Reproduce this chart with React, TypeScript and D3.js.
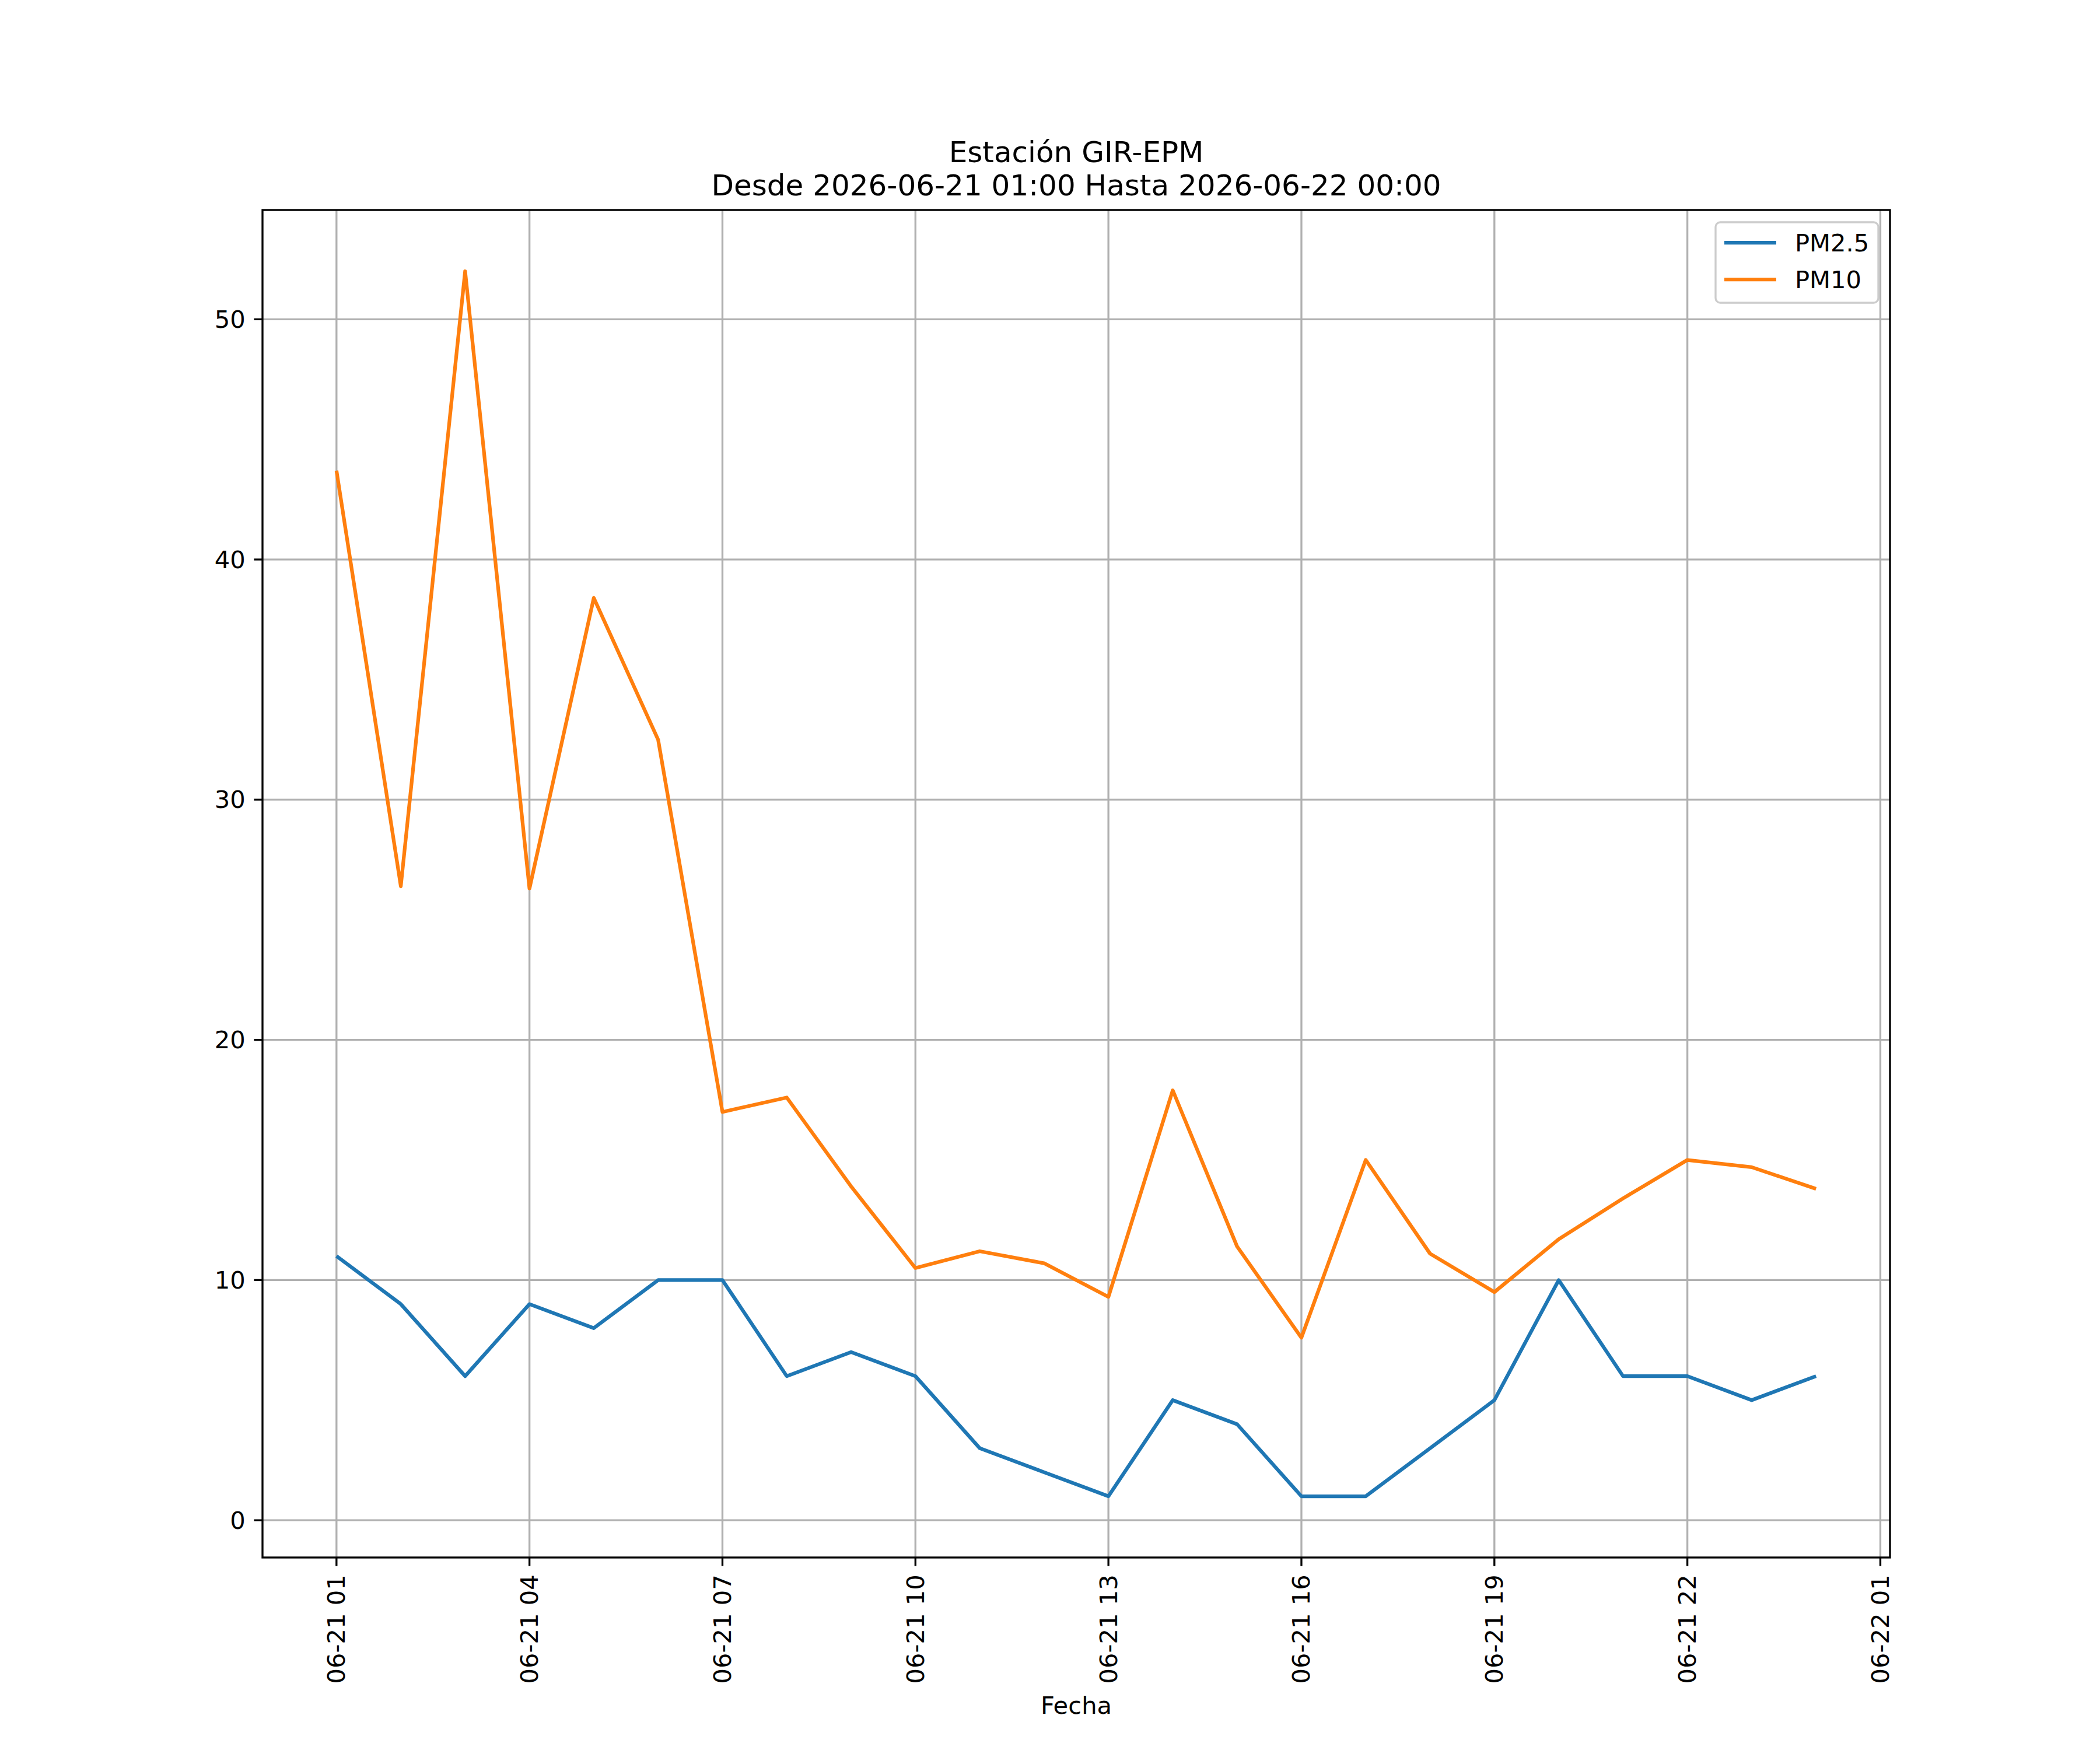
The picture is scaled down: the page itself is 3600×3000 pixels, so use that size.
import React from 'react'
import * as d3 from 'd3'

// hourly readings, 2026-06-21 01:00 .. 2026-06-22 00:00
const times = [
  '2026-06-21 01:00', '2026-06-21 02:00', '2026-06-21 03:00', '2026-06-21 04:00',
  '2026-06-21 05:00', '2026-06-21 06:00', '2026-06-21 07:00', '2026-06-21 08:00',
  '2026-06-21 09:00', '2026-06-21 10:00', '2026-06-21 11:00', '2026-06-21 12:00',
  '2026-06-21 13:00', '2026-06-21 14:00', '2026-06-21 15:00', '2026-06-21 16:00',
  '2026-06-21 17:00', '2026-06-21 18:00', '2026-06-21 19:00', '2026-06-21 20:00',
  '2026-06-21 21:00', '2026-06-21 22:00', '2026-06-21 23:00', '2026-06-22 00:00'
]

const pm25 = [11, 9, 6, 9, 8, 10, 10, 6, 7, 6, 3, 2, 1, 5, 4, 1, 1, 3, 5, 10, 6, 6, 5, 6]

const pm10 = [
  43.7, 26.4, 52.0, 26.3, 38.4, 32.5, 17.0, 17.6, 13.9, 10.5, 11.2, 10.7,
  9.3, 17.9, 11.4, 7.6, 15.0, 11.1, 9.5, 11.7, 13.4, 15.0, 14.7, 13.8
]

const xTickTimes = [
  '2026-06-21 01:00', '2026-06-21 04:00', '2026-06-21 07:00', '2026-06-21 10:00',
  '2026-06-21 13:00', '2026-06-21 16:00', '2026-06-21 19:00', '2026-06-21 22:00',
  '2026-06-22 01:00'
]

const yTicks = [0, 10, 20, 30, 40, 50]

const series = [
  { name: 'PM2.5', values: pm25, color: '#1f77b4' },
  { name: 'PM10', values: pm10, color: '#ff7f0e' }
]

const titleLines = ['Estación GIR-EPM', 'Desde 2026-06-21 01:00 Hasta 2026-06-22 00:00']

const font = 'DejaVu Sans, sans-serif'
const parse = d3.timeParse('%Y-%m-%d %H:%M')
const fmt = d3.timeFormat('%m-%d %H')

const App = () => {
  const width = 3600
  const height = 3000
  const margin = { left: 450, right: 360, top: 360, bottom: 330 }
  const x0 = margin.left
  const x1 = width - margin.right
  const y0 = margin.top
  const y1 = height - margin.bottom

  const dates = times.map((t) => parse(t))

  //matplotlib style 5% margins
  const tMin = +dates[0]
  const tMax = +dates[dates.length - 1]
  const tPad = (tMax - tMin) * 0.05
  const all = pm25.concat(pm10)
  const vMin = d3.min(all)
  const vMax = d3.max(all)
  const vPad = (vMax - vMin) * 0.05

  const x = d3
    .scaleTime()
    .domain([new Date(tMin - tPad), new Date(tMax + tPad)])
    .range([x0, x1])
  const y = d3
    .scaleLinear()
    .domain([vMin - vPad, vMax + vPad])
    .range([y1, y0])

  const tick = 14.6
  const pad = 14.6
  const gridStyle = { stroke: '#b0b0b0', strokeWidth: 3.33 }
  const xTicks = xTickTimes.map((t) => parse(t))

  const line = (vals) =>
    d3
      .line()
      .x((d, i) => x(dates[i]))
      .y((d) => y(d))(vals)

  const legX = 2941
  const legY = 381

  return (
    <svg
      width={width}
      height={height}
      style={{ position: 'absolute', left: 0, top: 0, background: '#fff' }}
      fontFamily={font}
    >
      <rect x={0} y={0} width={width} height={height} fill="#fff" />

      {/* grid */}
      <g>
        {xTicks.map((t, i) => (
          <line key={'gx' + i} x1={x(t)} x2={x(t)} y1={y0} y2={y1} style={gridStyle} />
        ))}
        {yTicks.map((v, i) => (
          <line key={'gy' + i} x1={x0} x2={x1} y1={y(v)} y2={y(v)} style={gridStyle} />
        ))}
      </g>

      {/* data lines */}
      {series.map((s) => (
        <path
          key={s.name}
          d={line(s.values)}
          fill="none"
          stroke={s.color}
          strokeWidth={6.25}
          strokeLinejoin="round"
          strokeLinecap="butt"
        />
      ))}

      {/* frame */}
      <rect
        x={x0}
        y={y0}
        width={x1 - x0}
        height={y1 - y0}
        fill="none"
        stroke="#000"
        strokeWidth={3.33}
      />

      {/* y axis */}
      <g>
        {yTicks.map((v, i) => (
          <g key={'yt' + i}>
            <line x1={x0} x2={x0 - tick} y1={y(v)} y2={y(v)} stroke="#000" strokeWidth={3.33} />
            <text
              x={x0 - tick - pad}
              y={y(v)}
              textAnchor="end"
              dominantBaseline="central"
              fontSize={41.67}
              fill="#000"
            >
              {v}
            </text>
          </g>
        ))}
      </g>

      {/* x axis */}
      <g>
        {xTicks.map((t, i) => (
          <g key={'xt' + i}>
            <line x1={x(t)} x2={x(t)} y1={y1} y2={y1 + tick} stroke="#000" strokeWidth={3.33} />
            <text
              transform={`translate(${x(t)},${y1 + tick + pad}) rotate(-90)`}
              textAnchor="end"
              dominantBaseline="central"
              fontSize={41.67}
              fill="#000"
            >
              {fmt(t)}
            </text>
          </g>
        ))}
        <text x={(x0 + x1) / 2} y={2938} textAnchor="middle" fontSize={41.67} fill="#000">
          Fecha
        </text>
      </g>

      {/* title */}
      {titleLines.map((t, i) => (
        <text
          key={'title' + i}
          x={(x0 + x1) / 2}
          y={278 + i * 57}
          textAnchor="middle"
          fontSize={50}
          fill="#000"
        >
          {t}
        </text>
      ))}

      {/* legend */}
      <g>
        <rect
          x={legX}
          y={legY}
          width={279}
          height={138}
          rx={8}
          ry={8}
          fill="#fff"
          fillOpacity={0.8}
          stroke="#cccccc"
          strokeWidth={3.33}
        />
        {series.map((s, i) => (
          <g key={'leg' + i}>
            <line
              x1={legX + 15}
              x2={legX + 104}
              y1={legY + 35 + i * 63}
              y2={legY + 35 + i * 63}
              stroke={s.color}
              strokeWidth={6.25}
            />
            <text
              x={legX + 136}
              y={legY + 35 + i * 63}
              dominantBaseline="central"
              fontSize={41.67}
              fill="#000"
            >
              {s.name}
            </text>
          </g>
        ))}
      </g>
    </svg>
  )
}

export default App
